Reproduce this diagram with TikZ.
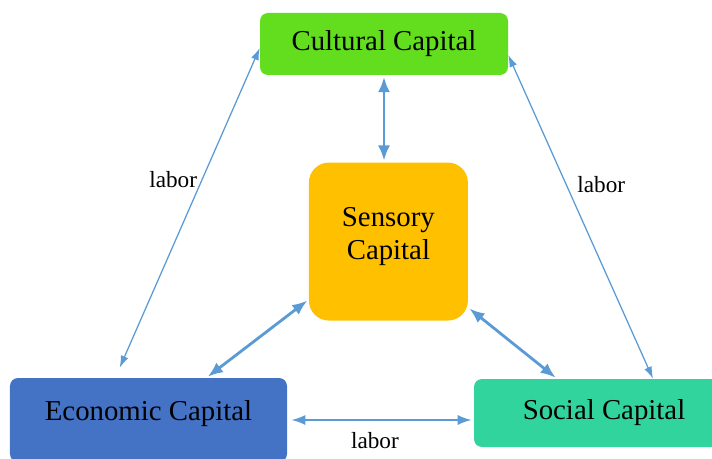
\documentclass[tikz,border=0pt]{standalone}
\usepackage{fontspec}
\setmainfont{Liberation Serif}
\usetikzlibrary{arrows.meta,positioning,calc}

\definecolor{culturalgreen}{RGB}{98,222,30}
\definecolor{sensoryorange}{RGB}{255,192,0}
\definecolor{economicblue}{RGB}{68,114,196}
\definecolor{socialteal}{RGB}{50,212,158}
\definecolor{linkblue}{RGB}{91,155,213}

\begin{document}
\begin{tikzpicture}[
    capital/.style={rectangle, draw=none, rounded corners=0.2cm,
                    align=center, text=black,
                    font=\fontsize{20.5}{23.5}\selectfont},
    link/.style={<->, >={Latex[length=0.38cm,width=0.3cm]}, draw=linkblue,
                 line width=2pt, shorten >=0.04cm, shorten <=0.04cm},
    laborlink/.style={<->, >={Latex[length=0.3cm,width=0.2cm]}, draw=linkblue,
                      line width=0.9pt},
    laborlabel/.style={font=\fontsize{16.5}{18}\selectfont}
]
    \useasboundingbox (0,0) rectangle (17.8,11.45);

    % Top: cultural capital, centre: sensory capital
    \node[capital, fill=culturalgreen, minimum width=6.2cm, minimum height=1.55cm]
        (cultural) at (9.6,10.35) {Cultural Capital};
    \node[capital, fill=sensoryorange, rounded corners=0.5cm,
          minimum width=3.975cm, minimum height=3.95cm, text depth=0.4cm,
          below=2.175cm of cultural, xshift=0.11cm] (sensory) {Sensory\\Capital};

    % Bottom: economic and social capital
    \node[capital, fill=economicblue, minimum width=6.925cm, minimum height=2.1cm,
          text depth=0.45cm] (economic) at (3.7125,0.95) {Economic Capital};
    \node[capital, fill=socialteal, minimum width=6.5cm, minimum height=1.7cm]
        (social) at (15.1,1.125) {Social Capital};

    % Links through the sensory capital
    \draw[link] (cultural.south) -- (cultural.south |- sensory.north);
    \draw[link] ([yshift=-1.45cm]sensory.west) -- ([xshift=1.45cm]economic.north);
    \draw[link] ([yshift=-1.65cm]sensory.east) -- ([xshift=-1.175cm]social.north);

    % Labor links round the triangle
    \draw[laborlink] ([yshift=-0.1cm]cultural.west) --
        node[laborlabel, pos=0.41, left] {labor}
        ([shift={(-0.72cm,0.25cm)}]economic.north);
    \draw[laborlink] ([yshift=-0.275cm]cultural.east) --
        node[laborlabel, pos=0.4, right=0.15cm] {labor}
        ([xshift=1.225cm]social.north);
    \draw[laborlink, line width=1.3pt, >={Latex[length=0.35cm,width=0.25cm]},
          shorten >=0.05cm, shorten <=0.1cm]
        (economic.east) -- node[laborlabel, pos=0.47, below=0.18cm] {labor}
        (economic.east -| social.west);
\end{tikzpicture}
\end{document}
